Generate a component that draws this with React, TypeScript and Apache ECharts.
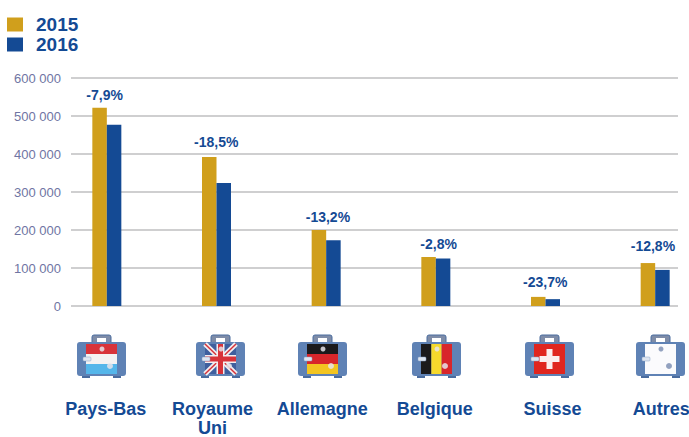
import React, { useEffect, useRef } from "react";
import * as echarts from "echarts";

const categories = ["Pays-Bas", "Royaume\nUni", "Allemagne", "Belgique", "Suisse", "Autres"];
const values2015 = [522000, 392000, 200000, 129000, 24000, 113000];
const values2016 = [477000, 324000, 173000, 125000, 18000, 95000];
const changes = ["-7,9%", "-18,5%", "-13,2%", "-2,8%", "-23,7%", "-12,8%"];
const yTicks = [0, 100000, 200000, 300000, 400000, 500000, 600000];

const GOLD = "#d09f1c";
const BLUE = "#144a94";
const GRID_TOP = 78;
const GRID_BOTTOM = 131;

// layout tweaks, not data
const labelRise = [-1, -3, -1, -1, -3, -5];
const labelShiftX = [5, 7, 9, 10, 7, 5];
const catShift = [-1, -4, -4, -1, 7, 6];
const iconLefts = [77, 196, 298, 412, 525, 636];

const stripesH = (x: number, y: number, w: number, h: number, cols: string[]) =>
  cols.map((c, i) => ({
    type: "rect", silent: true,
    shape: { x, y: y + (i * h) / cols.length, width: w, height: h / cols.length },
    style: { fill: c },
  }));
const stripesV = (x: number, y: number, w: number, h: number, cols: string[]) =>
  cols.map((c, i) => ({
    type: "rect", silent: true,
    shape: { x: x + (i * w) / cols.length, y, width: w / cols.length, height: h },
    style: { fill: c },
  }));

function flag(i: number, x: number, y: number, w: number, h: number): any[] {
  const r = (fx: number, fy: number, fw: number, fh: number, fill: string) => ({
    type: "rect", silent: true, shape: { x: fx, y: fy, width: fw, height: fh }, style: { fill },
  });
  const l = (x1: number, y1: number, x2: number, y2: number, stroke: string, lineWidth: number) => ({
    type: "line", silent: true, shape: { x1, y1, x2, y2 }, style: { stroke, lineWidth },
  });
  if (i === 0) return stripesH(x, y, w, h, ["#d8333a", "#f4f2f2", "#55b6ea"]);
  if (i === 1)
    return [
      r(x, y, w, h, "#3f5f9e"),
      l(x, y, x + w, y + h, "#f2eef0", 5),
      l(x + w, y, x, y + h, "#f2eef0", 5),
      l(x, y, x + w, y + h, "#d8333a", 1.5),
      l(x + w, y, x, y + h, "#d8333a", 1.5),
      r(x + w / 2 - 4, y, 8, h, "#f2eef0"),
      r(x, y + h / 2 - 4, w, 8, "#f2eef0"),
      r(x + w / 2 - 2.5, y, 5, h, "#d8333a"),
      r(x, y + h / 2 - 2.5, w, 5, "#d8333a"),
    ];
  if (i === 2) return stripesH(x, y, w, h, ["#1b1a1c", "#d8262b", "#f3c521"]);
  if (i === 3) return stripesV(x, y, w, h, ["#1b1a1c", "#f6d92c", "#d8262b"]);
  if (i === 4)
    return [
      r(x, y, w, h, "#e0261f"),
      r(x + w / 2 - 3, y + h / 2 - 10, 6, 20, "#fbeeee"),
      r(x + w / 2 - 10, y + h / 2 - 3, 20, 6, "#fbeeee"),
    ];
  return [r(x, y, w, h, "#fbfbfd")];
}

function suitcase(i: number, left: number): any[] {
  const top = 342;
  const W = 49;
  const H = 34;
  const body = "#5f82b5";
  const dark = "#4a6c9f";
  const fx = left + 9;
  const fw = W - 18;
  const items: any[] = [
    { type: "rect", silent: true, shape: { x: left + 15, y: top - 7, width: 19, height: 9, r: 2 },
      style: { fill: "#7e8ca8", stroke: dark, lineWidth: 1 } },
    { type: "rect", silent: true, shape: { x: left + 20, y: top - 4, width: 9, height: 4 },
      style: { fill: "#ffffff" } },
    { type: "rect", silent: true, shape: { x: left, y: top, width: W, height: H, r: 3 },
      style: { fill: body } },
    { type: "rect", silent: true, shape: { x: left + 5, y: top + H, width: 8, height: 2 }, style: { fill: dark } },
    { type: "rect", silent: true, shape: { x: left + W - 13, y: top + H, width: 8, height: 2 }, style: { fill: dark } },
    ...flag(i, fx, top + 2, fw, H - 4),
  ];
  items.push(
    { type: "rect", silent: true, shape: { x: left + 6, y: top + 15, width: 8, height: 4, r: 1 },
      style: { fill: "#dfe6f1", stroke: "#8aa0c4", lineWidth: 0.5 } },
    { type: "circle", silent: true, shape: { cx: left + 25, cy: top + 7, r: 2.5 },
      style: { fill: i === 5 ? "#7f90b4" : "#e6e4ea", opacity: i === 4 ? 0 : 0.85 } },
    { type: "circle", silent: true, shape: { cx: left + 33, cy: top + 24, r: 3 },
      style: { fill: i === 5 ? "#7f90b4" : "#e6e4ea", opacity: i === 4 ? 0 : 0.85 } },
  );
  return items;
}

export default function App() {
  const ref = useRef<HTMLDivElement>(null);
  useEffect(() => {
    document.body.style.margin = "0";
    const chart = echarts.init(ref.current!, undefined, { renderer: "svg" });
    const rich: any = {};
    catShift.forEach((s, i) => {
      rich["c" + i] = {
        fontFamily: "Liberation Sans", fontWeight: "bold", fontSize: 18, color: BLUE, lineHeight: 19,
        padding: s >= 0 ? [0, 0, 0, s * 2] : [0, -s * 2, 0, 0],
      };
    });
    const option: any = {
      animation: false,
      backgroundColor: "#ffffff",
      legend: {
        orient: "vertical", left: 7, top: 15, padding: 0, itemWidth: 16, itemHeight: 14, itemGap: 1,
        icon: "rect",
        data: ["2015", "2016"],
        textStyle: { fontFamily: "Liberation Sans", fontWeight: "bold", fontSize: 19, lineHeight: 14, color: BLUE, padding: [0, 0, 0, 8] },
        selectedMode: false,
      },
      grid: [
        { left: 71, width: 607, top: GRID_TOP, bottom: GRID_BOTTOM, outerBoundsMode: "none" },
        { left: 52, width: 658, top: GRID_TOP, bottom: GRID_BOTTOM, outerBoundsMode: "none" },
      ],
      xAxis: [
        { type: "category", gridIndex: 0, show: false, data: categories },
        {
          type: "category", gridIndex: 1, data: categories,
          axisLine: { show: false }, axisTick: { show: false },
          axisLabel: {
            interval: 0, margin: 93, rich, hideOverlap: false,
            formatter: (v: string) => {
              const idx = categories.indexOf(v);
              return v.split("\n").map((p) => `{c${idx}|${p}}`).join("\n");
            },
          },
        },
      ],
      yAxis: [
        {
          type: "value", gridIndex: 0, min: 0, max: 600000, interval: 100000,
          axisLine: { show: false }, axisTick: { show: false },
          splitLine: { show: true, lineStyle: { color: "#cfcfd0", width: 2 } },
          axisLabel: {
            margin: 10, fontFamily: "Liberation Sans", fontSize: 13, color: "#6f75a3",
            customValues: yTicks,
            formatter: (v: number) => (v === 0 ? "0" : `${v / 1000} 000`),
          },
        },
        { type: "value", gridIndex: 1, min: 0, max: 600000, interval: 100000, show: false },
      ],
      series: [
        {
          name: "2015", type: "bar", xAxisIndex: 1, yAxisIndex: 1, barWidth: 14.5, barGap: 0,
          itemStyle: { color: GOLD },
          data: values2015.map((value, i) => ({
            value,
            label: {
              show: true, position: "top", formatter: changes[i],
              offset: [labelShiftX[i], labelRise[i]],
              fontFamily: "Liberation Sans", fontWeight: "bold", fontSize: 14, color: BLUE,
            },
          })),
        },
        {
          name: "2016", type: "bar", xAxisIndex: 1, yAxisIndex: 1, barWidth: 14.5, barGap: 0,
          itemStyle: { color: BLUE },
          data: values2016,
        },
      ],
      graphic: iconLefts.map((left, i) => ({ type: "group", silent: true, children: suitcase(i, left) })),
    };
    chart.setOption(option);
    return () => chart.dispose();
  }, []);
  return <div ref={ref} style={{ width: 689, height: 437, overflow: "hidden" }} />;
}
